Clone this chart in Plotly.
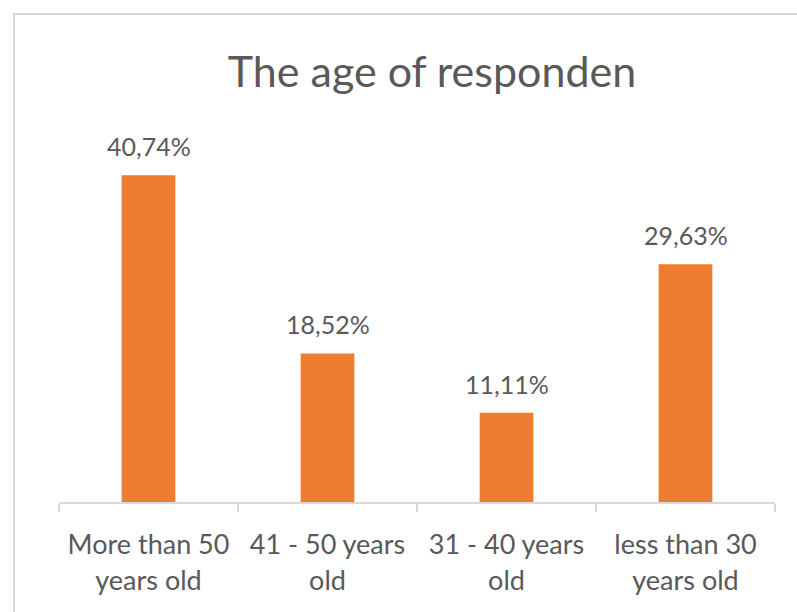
import plotly.graph_objects as go

categories = ["More than 50<br>years old", "41 - 50 years<br>old", "31 - 40 years<br>old", "less than 30<br>years old"]
values = [40.74, 18.52, 11.11, 29.63]
labels = [f"{v:.2f}%".replace(".", ",") for v in values]

TXT = "#595959"
FONT = "Lato, Calibri, Carlito, sans-serif"

fig = go.Figure(go.Bar(
    x=categories, y=values,
    marker=dict(color="#ED7D31", line=dict(width=0)),
    cliponaxis=False,
))

annotations = [dict(x=c, y=v, text=t, showarrow=False, yshift=29, yanchor="middle",
                    font=dict(size=25, color=TXT, family=FONT))
               for c, v, t in zip(categories, values, labels)]

fig.update_layout(
    width=797, height=612,
    margin=dict(l=59, r=22, t=141, b=110),
    paper_bgcolor="white", plot_bgcolor="white",
    bargap=0.7,
    showlegend=False,
    annotations=annotations,
    title=dict(text="The age of responden", x=432 / 797, xanchor="center",
               y=1 - 72 / 612, yanchor="middle",
               font=dict(size=43, color=TXT, family=FONT)),
    xaxis=dict(
        showline=True, linecolor="#D9D9D9", linewidth=2,
        ticks="outside", tickson="boundaries", ticklen=8, tickcolor="#D9D9D9", tickwidth=2,
        tickfont=dict(size=27, color=TXT, family=FONT),
        ticklabelstandoff=18,
        showgrid=False,
    ),
    yaxis=dict(range=[0, 45], visible=False, showgrid=False),
    shapes=[dict(type="rect", xref="paper", yref="paper",
                 x0=(14 - 59) / 716, x1=1.2, y0=-0.5, y1=(502 - 14) / 361,
                 line=dict(color="#D9D9D9", width=2), fillcolor="rgba(0,0,0,0)", layer="below")],
)

fig.write_html("out.html")
